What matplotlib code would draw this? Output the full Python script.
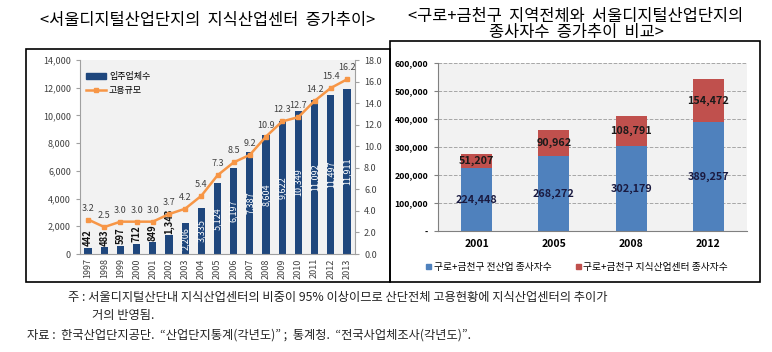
import numpy as np
import matplotlib.pyplot as plt
from matplotlib.patches import Rectangle
from matplotlib.lines import Line2D
from matplotlib.ticker import FuncFormatter

plt.rcParams['font.family'] = ['Noto Sans CJK KR', 'DejaVu Sans']

# left chart data
years = ['1997', '1998', '1999', '2000', '2001', '2002', '2003', '2004', '2005',
         '2006', '2007', '2008', '2009', '2010', '2011', '2012', '2013']
firms = [442, 483, 597, 712, 849, 1343, 2206, 3335, 5124,
         6197, 7387, 8604, 9622, 10349, 11092, 11497, 11911]
employment = [3.2, 2.5, 3.0, 3.0, 3.0, 3.7, 4.2, 5.4, 7.3,
              8.5, 9.2, 10.9, 12.3, 12.7, 14.2, 15.4, 16.2]

# right chart data
periods = ['2001', '2005', '2008', '2012']
all_industry = [224448, 268272, 302179, 389257]
knowledge_center = [51207, 90962, 108791, 154472]

W, H = 772, 352


def box(x0, y0, x1, y1):
    # pixel box (top-left origin) -> figure coords
    return [x0 / W, 1 - y1 / H, (x1 - x0) / W, (y1 - y0) / H]


fig = plt.figure(figsize=(W / 100, H / 100), dpi=100)

# panel borders
fig.patches.append(Rectangle((26 / W, 1 - 282 / H), (390 - 26) / W, (282 - 49) / H,
                             transform=fig.transFigure, fill=False, ec='black', lw=1.2))
fig.patches.append(Rectangle((390 / W, 1 - 282 / H), (760 - 390) / W, (282 - 41) / H,
                             transform=fig.transFigure, fill=False, ec='black', lw=1.2))

# titles
fig.text(208 / W, 1 - 21 / H, '<서울디지털산업단지의  지식산업센터  증가추이>',
         ha='center', va='center', fontsize=11.8)
fig.text(576 / W, 1 - 16 / H, '<구로+금천구  지역전체와  서울디지털산업단지의',
         ha='center', va='center', fontsize=11.8)
fig.text(576 / W, 1 - 33 / H, '종사자수  증가추이  비교>',
         ha='center', va='center', fontsize=11.8)

# ---- left chart
ax = fig.add_axes(box(80, 60, 355, 254))
ax.set_facecolor('#f2f2f2')
x = np.arange(len(years))
ax.bar(x, firms, width=0.45, color='#1f477d', zorder=2)
ax.set_xlim(-0.5, len(years) - 0.5)
ax.set_ylim(0, 14000)
ax.set_yticks(range(0, 14001, 2000))
ax.yaxis.set_major_formatter(FuncFormatter(lambda v, p: f'{int(v):,}'))
ax.set_xticks(x)
ax.set_xticklabels(years, rotation=90)
ax.tick_params(axis='both', labelsize=6.5, colors='#404040', length=3, color='#a0a0a0')
ax.tick_params(axis='x', length=0, pad=3)
for s in ['top', 'right']:
    ax.spines[s].set_visible(False)
ax.spines['left'].set_color('#a0a0a0')
ax.spines['bottom'].set_color('#a0a0a0')

for xi, v in zip(x, firms):
    if v < 2000:
        ax.text(xi, v + 120, f'{v:,}', rotation=90, ha='center', va='bottom',
                fontsize=6.8, fontweight='bold', color='#111111', zorder=4)
    else:
        ax.text(xi, v / 2, f'{v:,}', rotation=90, ha='center', va='center',
                fontsize=6.5, color='white', zorder=4)

ax2 = ax.twinx()
ax2.plot(x, employment, color='#f79646', lw=1.8, marker='s', markersize=3.5, zorder=3)
ax2.set_ylim(0, 18)
ax2.set_yticks(np.arange(0, 18.1, 2))
ax2.yaxis.set_major_formatter(FuncFormatter(lambda v, p: f'{v:.1f}'))
ax2.tick_params(axis='y', labelsize=6.5, colors='#404040', length=3, color='#a0a0a0')
for s in ['top', 'left', 'bottom']:
    ax2.spines[s].set_visible(False)
ax2.spines['right'].set_color('#a0a0a0')
for xi, v in zip(x, employment):
    ax2.annotate(f'{v:.1f}', (xi, v), xytext=(0, 5), textcoords='offset points',
                 ha='center', va='bottom', fontsize=6.5, color='#404040')

handles = [Rectangle((0, 0), 1, 1, color='#1f477d'),
           Line2D([0], [0], color='#f79646', lw=1.8, marker='s', markersize=3.5)]
ax.legend(handles, ['입주업체수', '고용규모'], loc='upper left', frameon=False,
          fontsize=6.5, handlelength=2.2, handleheight=0.5, handletextpad=0.3,
          borderaxespad=0.3, labelspacing=0.5, bbox_to_anchor=(0.0, 0.97))

# ---- right chart
bx = fig.add_axes(box(438, 63, 747, 231))
bx.set_facecolor('#f2f2f2')
xr = np.arange(len(periods))
bx.bar(xr, all_industry, width=0.4, color='#4f81bd', zorder=2)
bx.bar(xr, knowledge_center, width=0.4, bottom=all_industry, color='#c0504d', zorder=2)
bx.set_xlim(-0.5, len(periods) - 0.5)
bx.set_ylim(0, 600000)
bx.set_yticks(range(0, 600001, 100000))
bx.yaxis.set_major_formatter(FuncFormatter(lambda v, p: '-' if v == 0 else f'{int(v):,}'))
bx.set_xticks(xr)
bx.set_xticklabels(periods)
bx.grid(axis='y', ls='--', color='#a6a6a6', lw=0.7, zorder=0)
bx.tick_params(axis='y', labelsize=6.3, length=3, color='#808080', pad=4)
bx.tick_params(axis='x', labelsize=7.5, length=0, pad=6)
for lbl in bx.get_yticklabels() + bx.get_xticklabels():
    lbl.set_fontweight('bold')
for s in ['top', 'right']:
    bx.spines[s].set_visible(False)
bx.spines['left'].set_color('#808080')
bx.spines['bottom'].set_color('#808080')

for xi, a, b in zip(xr, all_industry, knowledge_center):
    bx.text(xi, a / 2, f'{a:,}', ha='center', va='center', fontsize=7.8,
            fontweight='bold', color='#1a1a40', zorder=4)
    bx.text(xi, a + b / 2, f'{b:,}', ha='center', va='center', fontsize=7.8,
            fontweight='bold', color='#1a1a1a', zorder=4)

fig.legend([Rectangle((0, 0), 1, 1, color='#4f81bd'), Rectangle((0, 0), 1, 1, color='#c0504d')],
           ['구로+금천구 전산업 종사자수', '구로+금천구 지식산업센터 종사자수'],
           loc='center', bbox_to_anchor=(577 / W, 1 - 267 / H), ncol=2, frameon=False,
           fontsize=7, handlelength=0.5, handleheight=0.5, handletextpad=0.3,
           columnspacing=2.5)

# ---- notes
note_kw = dict(ha='left', va='center', fontsize=8.8, color='#222222')
fig.text(68 / W, 1 - 297 / H, '주 : 서울디지털산단내 지식산업센터의 비중이 95% 이상이므로 산단전체 고용현황에 지식산업센터의 추이가',
         **note_kw)
fig.text(92 / W, 1 - 316 / H, '거의 반영됨.', **note_kw)
fig.text(27 / W, 1 - 335 / H, '자료 :  한국산업단지공단.  “산업단지통계(각년도)” ;  통계청.  “전국사업체조사(각년도)”.',
         **note_kw)

plt.savefig('out.png', dpi=100)
